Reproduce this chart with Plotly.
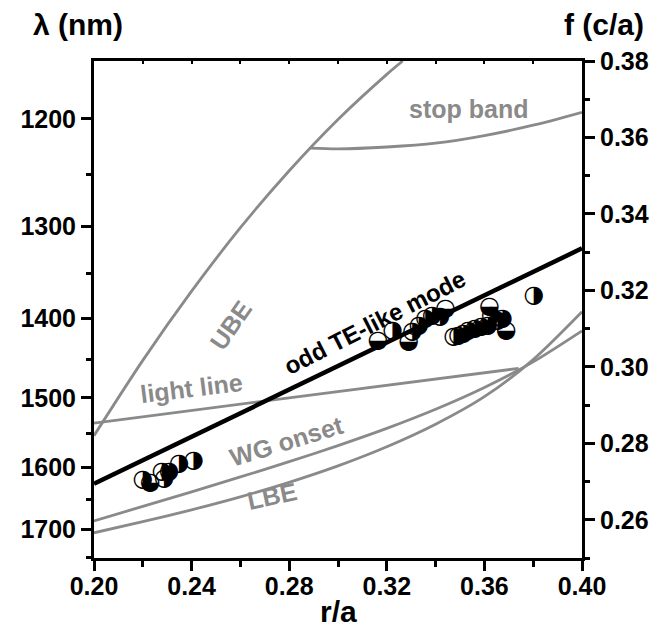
import plotly.graph_objects as go

# ---------------- data ----------------
A_NM = 437.8  # lattice constant linking lambda = a / f

x_ticks = [0.20, 0.24, 0.28, 0.32, 0.36, 0.40]
x_minor = [0.22, 0.26, 0.30, 0.34, 0.38]
f_ticks = [0.26, 0.28, 0.30, 0.32, 0.34, 0.36, 0.38]
f_minor = [0.25, 0.27, 0.29, 0.31, 0.33, 0.35, 0.37]
lam_ticks = [1200, 1300, 1400, 1500, 1600, 1700]
lam_minor = [1250, 1350, 1450, 1550, 1650, 1750]

mode_r = [0.20, 0.40]
mode_f = [0.2694, 0.3310]

light_r = [0.20, 0.374]
light_f = [0.2853, 0.2996]

ube_r = [0.20, 0.22, 0.24, 0.26, 0.28, 0.30, 0.32, 0.3265]
ube_f = [0.2820, 0.3017, 0.3198, 0.3364, 0.3513, 0.3647, 0.3765, 0.3800]

stop_r = [0.2885, 0.30, 0.32, 0.34, 0.36, 0.38, 0.40]
stop_f = [0.3572, 0.3570, 0.3575, 0.3585, 0.3605, 0.3632, 0.3666]

wg_r = [0.20, 0.22, 0.24, 0.26, 0.28, 0.30, 0.32, 0.34, 0.36, 0.38, 0.40]
wg_f = [0.2597, 0.2635, 0.2673, 0.2712, 0.2752, 0.2794, 0.2839, 0.2889, 0.2946, 0.3013, 0.3094]

lbe_r = [0.20, 0.22, 0.24, 0.26, 0.28, 0.30, 0.32, 0.34, 0.36, 0.38, 0.40]
lbe_f = [0.2566, 0.2595, 0.2626, 0.2660, 0.2698, 0.2741, 0.2791, 0.2850, 0.2922, 0.3019, 0.3144]

meas_r = [0.2201, 0.2230, 0.2279, 0.2288, 0.2308, 0.2349, 0.2409,
          0.3164, 0.3224, 0.3290, 0.3305, 0.3332, 0.3359, 0.3386, 0.3419, 0.3440,
          0.3474, 0.3494, 0.3514, 0.3534, 0.3561, 0.3588, 0.3615,
          0.3621, 0.3628, 0.3655, 0.3675, 0.3689, 0.3803]
meas_f = [0.2703, 0.2697, 0.2725, 0.2707, 0.2726, 0.2746, 0.2755,
          0.3068, 0.3095, 0.3064, 0.3090, 0.3108, 0.3125, 0.3134, 0.3130, 0.3151,
          0.3077, 0.3082, 0.3086, 0.3095, 0.3099, 0.3103, 0.3108,
          0.3156, 0.3134, 0.3121, 0.3125, 0.3095, 0.3186]
meas_glyph = ["◑", "◒", "◑", "◑", "◑", "◑", "◑",
              "◒", "◑", "◒", "◑", "◑", "◑", "◑", "◑", "◒",
              "◑", "◑", "◑", "◑", "◑", "◑", "◑",
              "◒", "◑", "◑", "◑", "◒", "◑"]

# ---------------- figure ----------------
GRAY = "#8a8a8a"
FONT = "Liberation Sans"

fig = go.Figure()

def curve(r, f, color, width):
    fig.add_trace(go.Scatter(x=r, y=f, mode="lines",
                             line=dict(color=color, width=width, shape="spline", smoothing=0.8),
                             hoverinfo="skip", showlegend=False, yaxis="y"))

curve(ube_r, ube_f, GRAY, 2.8)
curve(stop_r, stop_f, GRAY, 2.8)
curve(light_r, light_f, GRAY, 2.8)
curve(wg_r, wg_f, GRAY, 2.8)
curve(lbe_r, lbe_f, GRAY, 2.8)
curve(mode_r, mode_f, "black", 4.5)

fig.add_trace(go.Scatter(x=meas_r, y=meas_f, mode="text", text=meas_glyph,
                         textposition="middle center",
                         textfont=dict(family="DejaVu Sans", size=24, color="black"),
                         showlegend=False, yaxis="y2", cliponaxis=False, hoverinfo="skip"))

# dummy trace so the top axis (inner ticks) is drawn
fig.add_trace(go.Scatter(x=[None], y=[None], xaxis="x2", yaxis="y", showlegend=False, hoverinfo="skip"))

def label(x, y, t, angle, color=GRAY, size=25):
    fig.add_annotation(x=x, y=y, xref="x", yref="y", text=t, showarrow=False,
                       textangle=angle, font=dict(family=FONT, size=size, color=color, weight="bold"))

label(0.3535, 0.3674, "stop band", 0)
label(0.2560, 0.3110, "UBE", -55)
label(0.2400, 0.2945, "light line", -7)
label(0.3150, 0.3115, "odd TE-like mode", -27, color="black", size=24)
label(0.2790, 0.2805, "WG onset", -17)
label(0.2730, 0.2662, "LBE", -12)

tickfont = dict(family=FONT, size=25, color="black", weight="bold")

fig.update_layout(
    width=660, height=637,
    margin=dict(l=79, r=86, t=53, b=87),
    paper_bgcolor="white", plot_bgcolor="white",
    showlegend=False,
    xaxis=dict(range=[0.20, 0.40], tickvals=x_ticks, ticktext=[f"{v:.2f}" for v in x_ticks],
               ticks="outside", ticklen=10, tickwidth=3, tickcolor="black",
               minor=dict(tickvals=x_minor, ticks="outside", ticklen=6, tickwidth=3, tickcolor="black"),
               showline=True, linewidth=3, linecolor="black", mirror=True,
               showgrid=False, zeroline=False, tickfont=tickfont, ticklabelstandoff=-6),
    xaxis2=dict(range=[0.20, 0.40], overlaying="x", side="top", tickvals=x_ticks,
                showticklabels=False, ticks="inside", ticklen=3, tickwidth=2, tickcolor="black",
                minor=dict(tickvals=x_minor, ticks="inside", ticklen=3, tickwidth=2, tickcolor="black"),
                showline=False, showgrid=False, zeroline=False),
    yaxis=dict(range=[0.25, 0.38], tickvals=[A_NM / v for v in lam_ticks],
               ticktext=[str(v) for v in lam_ticks],
               ticks="outside", ticklen=10, tickwidth=3, tickcolor="black",
               minor=dict(tickvals=[A_NM / v for v in lam_minor], ticks="outside", ticklen=5, tickwidth=3, tickcolor="black"),
               showline=True, linewidth=3, linecolor="black",
               showgrid=False, zeroline=False, tickfont=tickfont),
    yaxis2=dict(range=[0.25, 0.38], overlaying="y", side="right", tickvals=f_ticks,
                ticktext=[f"{v:.2f}" for v in f_ticks],
                ticks="outside", ticklen=10, tickwidth=3, tickcolor="black",
                minor=dict(tickvals=f_minor, ticks="outside", ticklen=5, tickwidth=3, tickcolor="black"),
                showline=True, linewidth=3, linecolor="black",
                showgrid=False, zeroline=False, tickfont=tickfont),
)

titlefont = dict(family=FONT, size=30, color="black", weight="bold")
fig.add_annotation(xref="paper", yref="paper", x=-0.0323, y=1.0744, text="λ (nm)",
                   showarrow=False, font=titlefont, xanchor="center", yanchor="middle")
fig.add_annotation(xref="paper", yref="paper", x=1.0444, y=1.0744, text="f (c/a)",
                   showarrow=False, font=titlefont, xanchor="center", yanchor="middle")
fig.add_annotation(xref="paper", yref="paper", x=0.501, y=-0.1067, text="r/a",
                   showarrow=False, font=titlefont, xanchor="center", yanchor="middle")

fig.write_html("out.html")
